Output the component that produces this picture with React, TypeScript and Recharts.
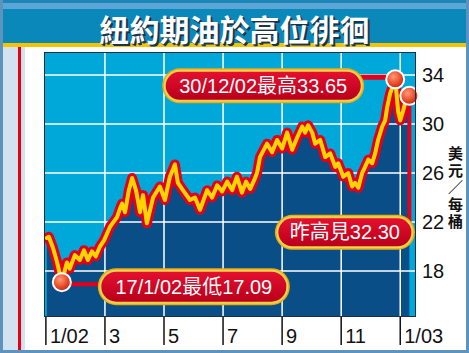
import React from 'react';
import { ComposedChart, Area, Line, XAxis, YAxis, CartesianGrid, ReferenceLine, ReferenceDot } from 'recharts';

const monthPos = [0.03, 0.10, 0.24, 0.37, 0.54, 0.71, 0.81, 0.98, 1.15, 1.29, 1.42, 1.56, 1.69, 1.83, 1.97, 2.17, 2.41, 2.51, 2.58, 2.68, 2.81, 2.92, 3.05, 3.19, 3.29, 3.42, 3.63, 3.86, 4.03, 4.20, 4.37, 4.47, 4.64, 4.88, 5.05, 5.22, 5.46, 5.63, 5.80, 5.97, 6.14, 6.31, 6.47, 6.64, 6.78, 6.92, 7.05, 7.15, 7.25, 7.49, 7.66, 7.83, 8.00, 8.17, 8.34, 8.51, 8.68, 8.78, 8.88, 9.02, 9.12, 9.29, 9.46, 9.63, 9.80, 9.90, 10.07, 10.24, 10.37, 10.47, 10.58, 10.71, 10.81, 10.92, 11.05, 11.15, 11.25, 11.39, 11.49, 11.56, 11.66, 11.83, 11.93, 12.00, 12.10, 12.20, 12.31];
const prices = [20.7, 20.8, 19.9, 18.8, 17.09, 18.7, 18.2, 19.3, 18.9, 19.7, 18.9, 19.6, 19.2, 20.0, 20.5, 21.6, 22.4, 23.1, 23.5, 22.8, 24.6, 25.6, 24.6, 22.8, 24.2, 21.9, 24.0, 24.9, 23.8, 25.7, 26.7, 25.2, 24.6, 23.8, 24.0, 23.0, 24.6, 24.0, 25.0, 24.5, 25.3, 24.6, 25.7, 24.4, 25.3, 24.7, 25.4, 26.0, 27.3, 28.4, 27.7, 28.7, 28.0, 29.3, 27.9, 28.9, 29.8, 29.3, 29.9, 29.3, 28.4, 28.7, 27.3, 27.6, 26.5, 26.8, 25.7, 26.0, 24.9, 25.2, 24.8, 26.0, 26.5, 27.1, 26.8, 27.6, 28.7, 29.8, 30.3, 31.4, 32.5, 33.65, 31.0, 30.3, 31.1, 32.0, 32.30];

const tickMonths = [0, 2, 4, 6, 8, 10, 12];
const tickLabels = ['1/02', '3', '5', '7', '9', '11', '1/03'];
const priceTicks = [18, 22, 26, 30, 34];

const title = '紐約期油於高位徘徊';
const unitLabel = '美元／每桶';

const highPoint = { m: 11.83, v: 33.65, label: '30/12/02最高33.65' };
const lowPoint = { m: 0.54, v: 17.09, label: '17/1/02最低17.09' };
const lastPoint = { m: 12.31, v: 32.30, label: '昨高見32.30' };

const data = monthPos.map((m, i) => ({ m, v: prices[i] }));

const FONT = "'Liberation Sans', Arial, 'Noto Sans CJK TC', sans-serif";
const CJK = "'Noto Sans CJK TC', 'Liberation Sans', sans-serif";

const Pill = ({ x, y, w, h, text }: any) => (
  <g>
    <rect x={x} y={y} width={w} height={h} rx={h / 2} ry={h / 2} fill="#E3AE17" />
    <rect x={x + 1.5} y={y + 1.5} width={w - 3} height={h - 3} rx={(h - 3) / 2} fill="#F7D24A" />
    <rect x={x + 3.5} y={y + 3.5} width={w - 7} height={h - 7} rx={(h - 7) / 2} fill="url(#pillGrad)" />
    <text x={x + w / 2} y={y + h / 2 + 7} textAnchor="middle" fontSize={20} fill="#fff" fontFamily={FONT}>{text}</text>
  </g>
);

const Dot = ({ cx, cy }: any) => (
  <circle cx={cx} cy={cy} r={9} fill="url(#dotGrad)" stroke="#fff" strokeWidth={2} />
);

const HighShape = (p: any) => {
  const { cx, cy } = p;
  const bx = cx - 31 - 202;
  return (
    <g>
      <line x1={bx + 190} y1={cy - 2} x2={cx} y2={cy - 2} stroke="#E2001A" strokeWidth={5} />
      <Pill x={bx} y={cy - 11} w={202} h={35} text={highPoint.label} />
      <Dot cx={cx} cy={cy} />
    </g>
  );
};

const LowShape = (p: any) => {
  const { cx, cy } = p;
  const bx = cx + 36;
  return (
    <g>
      <line x1={cx} y1={cy + 2} x2={bx + 10} y2={cy + 2} stroke="#E2001A" strokeWidth={4} />
      <Pill x={bx} y={cy - 14} w={192} h={37} text={lowPoint.label} />
      <Dot cx={cx} cy={cy} />
    </g>
  );
};

const LastShape = (p: any) => {
  const { cx, cy } = p;
  const bx = cx + 5.5 - 140;
  const by = cy + 119;
  return (
    <g>
      <line x1={cx} y1={cy} x2={cx} y2={by + 8} stroke="#E2001A" strokeWidth={4} />
      <Pill x={bx} y={by} w={140} h={35} text={lastPoint.label} />
      <Dot cx={cx} cy={cy} />
    </g>
  );
};

const XTick = (props: any) => {
  const { x, y, payload } = props;
  const idx = tickMonths.indexOf(payload.value);
  return (
    <g>
      <line x1={x} y1={y} x2={x} y2={y + 29} stroke="#111" strokeWidth={1.5} />
      <text x={x + 4} y={y + 27} fontSize={20} fill="#111" fontFamily={FONT}>{tickLabels[idx]}</text>
    </g>
  );
};

const YTick = (props: any) => {
  const { x, y, payload } = props;
  return (
    <text x={x + 7} y={y + 7} fontSize={20} fill="#111" fontFamily={FONT}>{payload.value}</text>
  );
};

export default function App() {
  return (
    <div style={{ position: 'absolute', left: 0, top: 0, width: 469, height: 353, background: '#fff', overflow: 'hidden' }}>
      <div style={{ position: 'absolute', left: 0, top: 0, width: 469, height: 353, boxSizing: 'border-box', border: '3px solid #5E93BE' }} />
      <div style={{ position: 'absolute', left: 3, top: 0, width: 463, height: 3, background: '#1E86B6' }} />
      <div style={{ position: 'absolute', left: 3, top: 3, width: 463, height: 6, background: '#5AA6D6' }} />
      <div style={{ position: 'absolute', left: 3, top: 9, width: 463, height: 34, background: '#0A88BA' }} />
      <div style={{ position: 'absolute', left: 3, top: 43, width: 463, height: 4, background: '#F4C400' }} />
      <div style={{ position: 'absolute', left: 3, top: 47, width: 22, height: 303, background: '#D3E2F1' }} />
      <div style={{ position: 'absolute', left: 18, top: 47, width: 3, height: 303, background: '#E8000F' }} />
      <div style={{ position: 'absolute', left: 0, top: 9, width: 469, height: 40, textAlign: 'center', color: '#fff', fontFamily: CJK, fontWeight: 700, fontSize: 30, lineHeight: '38px', textShadow: '1px 1px 0 #1d3346, 2px 2px 0 #1d3346' }}>{title}</div>
      <div style={{ position: 'absolute', left: 447, top: 146, width: 17, writingMode: 'vertical-rl', fontFamily: CJK, fontWeight: 700, fontSize: 15, lineHeight: '17px', letterSpacing: '2px', color: '#111' }}>{unitLabel}</div>
      <ComposedChart width={469} height={353} data={data} margin={{ top: 53, left: 45, right: 0, bottom: 0 }} style={{ position: 'absolute', left: 0, top: 0 }}>
        <defs>
          <linearGradient id="pillGrad" x1="0" y1="0" x2="0" y2="1">
            <stop offset="0" stopColor="#E4102E" />
            <stop offset="1" stopColor="#B8001C" />
          </linearGradient>
          <radialGradient id="dotGrad" cx="0.4" cy="0.35" r="0.7">
            <stop offset="0" stopColor="#FF9A78" />
            <stop offset="0.6" stopColor="#E84A28" />
            <stop offset="1" stopColor="#B82010" />
          </radialGradient>
        </defs>
        <CartesianGrid fill="#00A8DA" horizontal={false} vertical={false} />
        <XAxis type="number" dataKey="m" domain={[-0.03, 12.5]} ticks={tickMonths} interval={0} height={37} tickSize={0} tickMargin={0} tick={<XTick />} axisLine={false} tickLine={false} allowDataOverflow />
        <YAxis type="number" orientation="right" domain={[14.33, 35.8]} ticks={priceTicks} interval={0} width={54} tickSize={0} tickMargin={0} tick={<YTick />} axisLine={false} tickLine={false} allowDataOverflow />
        <Area type="linear" dataKey="v" fill="#0A4E88" fillOpacity={1} stroke="none" isAnimationActive={false} baseValue={14.33} />
        {priceTicks.map((t) => (
          <ReferenceLine key={'h' + t} y={t} stroke="#fff" strokeWidth={1.5} />
        ))}
        {tickMonths.slice(1).map((t) => (
          <ReferenceLine key={'v' + t} x={t} stroke="#fff" strokeWidth={1.5} />
        ))}
        <Line type="linear" dataKey="v" stroke="#E2001A" strokeWidth={10} strokeLinejoin="round" strokeLinecap="round" dot={false} activeDot={false} isAnimationActive={false} />
        <Line type="linear" dataKey="v" stroke="#FFD400" strokeWidth={4} strokeLinejoin="round" strokeLinecap="round" dot={false} activeDot={false} isAnimationActive={false} />
        <ReferenceDot x={lowPoint.m} y={lowPoint.v} shape={LowShape} />
        <ReferenceDot x={highPoint.m} y={highPoint.v} shape={HighShape} />
        <ReferenceDot x={lastPoint.m} y={lastPoint.v} shape={LastShape} />
      </ComposedChart>
      <div style={{ position: 'absolute', left: 44, top: 52, width: 372, height: 265, boxSizing: 'border-box', border: '1px solid #1A2E44', pointerEvents: 'none' }} />
    </div>
  );
}
